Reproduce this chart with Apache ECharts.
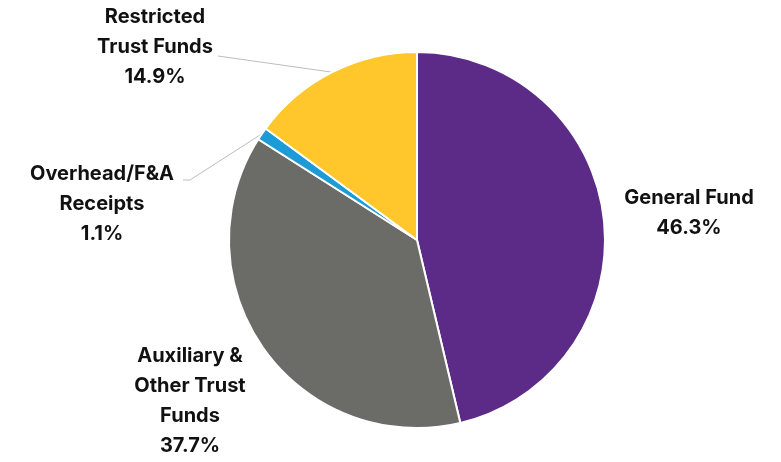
<!DOCTYPE html>
<html>
<head>
<meta charset="utf-8">
<script src="https://cdn.jsdelivr.net/npm/echarts@6/dist/echarts.min.js"></script>
<style>
  html, body { margin: 0; padding: 0; background: #fff; }
  #chart { width: 781px; height: 462px; }
</style>
</head>
<body>
<div id="chart"></div>
<script>
// Fund sources, as shares of the total
const categories = ['General Fund', 'Auxiliary &\nOther Trust\nFunds', 'Overhead/F&A\nReceipts', 'Restricted\nTrust Funds'];
const shares = [46.3, 37.7, 1.1, 14.9];
const sliceColors = ['#5B2B87', '#6B6C67', '#1D9BD7', '#FFC72B'];

// Label block centres and leader-line ends for each slice
const labelSpots = [
  { x: 689, y: 213, line: null },
  { x: 190, y: 401, line: null },
  { x: 102, y: 204, line: [[190, 180], [183, 180]] },
  { x: 155, y: 47, line: [[218, 56]] }
];

const chart = echarts.init(document.getElementById('chart'), null, { renderer: 'canvas' });

const data = categories.map((name, i) => ({
  name: name,
  value: shares[i],
  itemStyle: { color: sliceColors[i] },
  labelLine: { show: !!labelSpots[i].line }
}));

chart.setOption({
  animation: false,
  backgroundColor: '#ffffff',
  series: [{
    type: 'pie',
    center: [417, 240],
    radius: [0, 188],
    startAngle: 90,
    clockwise: true,
    avoidLabelOverlap: false,
    itemStyle: { borderColor: '#ffffff', borderWidth: 2 },
    label: {
      show: true,
      position: 'outside',
      formatter: p => p.name + '\n' + p.value.toFixed(1) + '%',
      fontFamily: 'Inter, "Open Sans", sans-serif',
      fontWeight: 'bold',
      fontSize: 20,
      lineHeight: 30,
      color: '#111111',
      align: 'center'
    },
    labelLine: {
      show: true,
      lineStyle: { color: '#bdbdbd', width: 1 }
    },
    labelLayout: function (params) {
      const spot = labelSpots[params.dataIndex];
      const out = { x: spot.x, y: spot.y, align: 'center', verticalAlign: 'middle' };
      if (spot.line && params.labelLinePoints && params.labelLinePoints.length) {
        out.labelLinePoints = [params.labelLinePoints[0]].concat(spot.line);
      }
      return out;
    },
    data: data
  }]
});
</script>
</body>
</html>
